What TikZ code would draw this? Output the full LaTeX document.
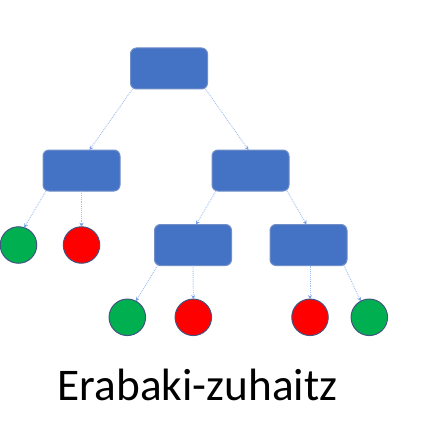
\documentclass[tikz,border=0pt]{standalone}
\usepackage{fontspec}
\setmainfont{Carlito}
\usetikzlibrary{arrows.meta,calc}
\definecolor{boxfill}{RGB}{68,114,196}
\definecolor{boxedge}{RGB}{112,142,200}
\definecolor{leafgreen}{RGB}{0,176,80}
\definecolor{leafred}{RGB}{255,0,0}
\definecolor{leafedge}{RGB}{68,84,128}
\definecolor{linkblue}{RGB}{160,192,238}
\definecolor{tipblue}{RGB}{120,160,230}
\tikzset{
  decbox/.style={draw=boxedge, fill=boxfill, line width=1pt, rounded corners=6pt,
    minimum width=77pt, minimum height=41pt, inner sep=0pt, outer sep=0pt},
  leafg/.style={circle, draw=leafedge, fill=leafgreen, line width=1pt,
    minimum size=36.5pt, inner sep=0pt, outer sep=0pt},
  leafr/.style={circle, draw=leafedge, fill=leafred, line width=1pt,
    minimum size=36.5pt, inner sep=0pt, outer sep=0pt},
  link/.style={draw=linkblue, line width=0.9pt, densely dotted,
    -{Stealth[length=4pt,width=4pt,color=tipblue,sep=0pt]}},
}
\begin{document}
\begin{tikzpicture}[x=1pt,y=-1pt]
\useasboundingbox (0,0) rectangle (422,422);
% decision boxes
\node[decbox] (root) at (169,68.5) {};
\node[decbox] (L) at (81.5,170.5) {};
\node[decbox] (R) at (250.5,170.5) {};
\node[decbox] (M1) at (193,245) {};
\node[decbox] (M2) at (308.5,245) {};
% leaves
\node[leafg] (g1) at (18.5,245) {};
\node[leafr] (r1) at (81.5,245) {};
\node[leafg] (g2) at (127.3,317.3) {};
\node[leafr] (r2) at (193.3,317.3) {};
\node[leafr] (r3) at (310,317.3) {};
\node[leafg] (g3) at (369.3,317.3) {};
% links
\draw[link] ($(root.south west)+(2,0)$) -- ($(L.north)+(8,0)$);
\draw[link] ($(root.south east)+(-2,0)$) -- ($(R.north)+(-2,0)$);
\draw[link] ($(L.south west)+(3,0)$) -- (g1.72);
\draw[link] (L.south) -- (r1.north);
\draw[link] ($(R.south west)+(4,0)$) -- ($(M1.north)+(3,0)$);
\draw[link] ($(R.south east)+(-2,0)$) -- ($(M2.north)+(-2,0)$);
\draw[link] ($(M1.south west)+(3,0)$) -- (g2.62);
\draw[link] (M1.south) -- (r2.north);
\draw[link] (r3.north |- M2.south) -- (r3.north);
\draw[link] ($(M2.south east)+(-3,0)$) -- (g3.118);
% title
\node[anchor=base, inner sep=0pt, font=\fontsize{45.3}{54}\selectfont] (title) at (197.5,400) {Erabaki-zuhaitz};
\end{tikzpicture}
\end{document}
